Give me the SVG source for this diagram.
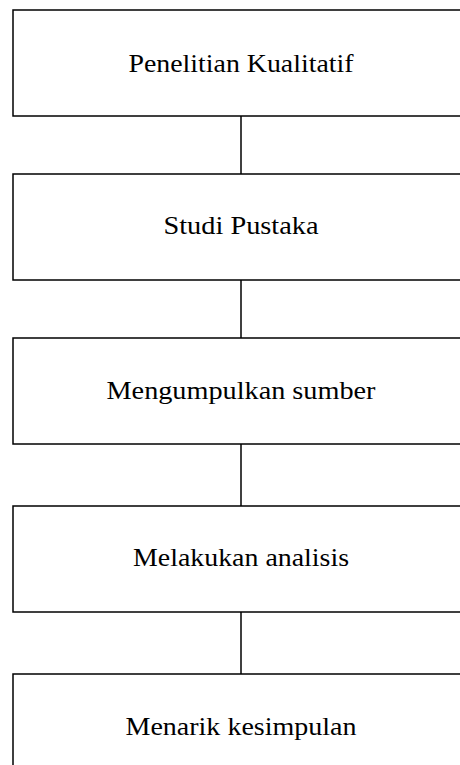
<svg xmlns="http://www.w3.org/2000/svg" width="460" height="765" viewBox="0 0 460 765">
<style>
.box{fill:#fff;stroke:#000;stroke-width:1.5}
.lbl{font-family:"Liberation Serif","DejaVu Serif",serif;font-size:25px;fill:#000;text-anchor:middle}
.conn{stroke:#000;stroke-width:1.5;fill:none}
</style>
<rect width="460" height="765" fill="#fff"/>
<g id="connectors">
<line class="conn" x1="241" y1="116" x2="241" y2="174"/>
<line class="conn" x1="241" y1="280" x2="241" y2="338"/>
<line class="conn" x1="241" y1="444" x2="241" y2="506"/>
<line class="conn" x1="241" y1="612" x2="241" y2="674"/>
</g>
<g id="n1"><rect class="box" x="13" y="10" width="458" height="106"/><text class="lbl" x="241" y="72" textLength="225" lengthAdjust="spacingAndGlyphs">Penelitian Kualitatif</text></g>
<g id="n2"><rect class="box" x="13" y="174" width="458" height="106"/><text class="lbl" x="241" y="234" textLength="155" lengthAdjust="spacingAndGlyphs">Studi Pustaka</text></g>
<g id="n3"><rect class="box" x="13" y="338" width="458" height="106"/><text class="lbl" x="241" y="399" textLength="269" lengthAdjust="spacingAndGlyphs">Mengumpulkan sumber</text></g>
<g id="n4"><rect class="box" x="13" y="506" width="458" height="106"/><text class="lbl" x="241" y="566" textLength="216" lengthAdjust="spacingAndGlyphs">Melakukan analisis</text></g>
<g id="n5"><rect class="box" x="13" y="674" width="458" height="106"/><text class="lbl" x="241" y="735" textLength="231" lengthAdjust="spacingAndGlyphs">Menarik kesimpulan</text></g>
</svg>
